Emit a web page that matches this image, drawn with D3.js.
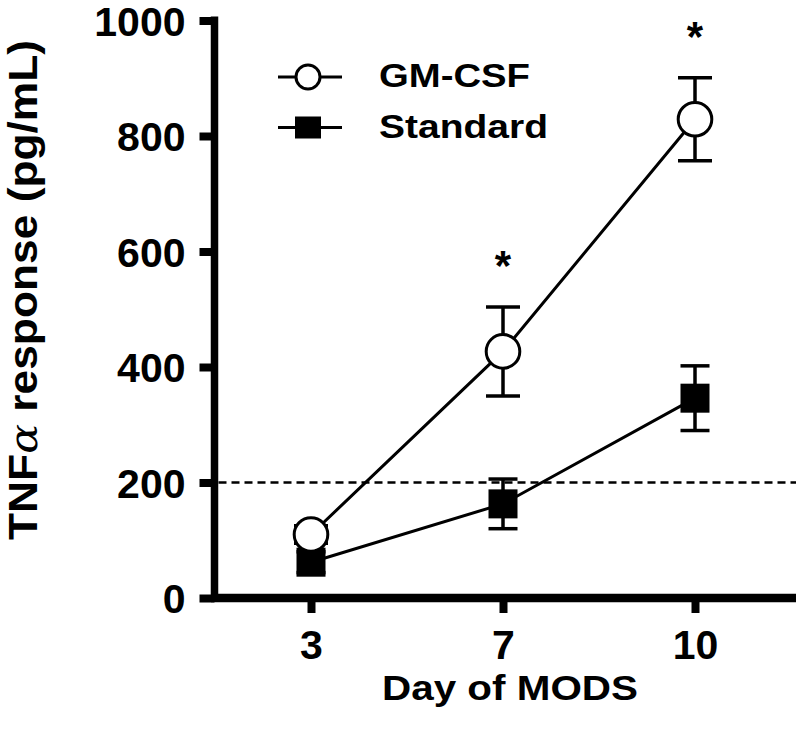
<!DOCTYPE html>
<html>
<head>
<meta charset="utf-8">
<script src="https://cdn.jsdelivr.net/npm/d3@7"></script>
<style>
  html, body { margin: 0; padding: 0; background: #fff; }
  text { font-family: "Liberation Sans", Arial, sans-serif; font-weight: bold; fill: #000; }
</style>
</head>
<body>
<svg id="chart" width="800" height="738"></svg>
<script>
// ---- data ----
const days = ["3", "7", "10"];
const gmcsfMean = [110, 427, 829];
const gmcsfErr = [15, 77, 72];
const standardMean = [62, 163, 346];
const standardErr = [18, 43, 56];
const yTicks = [0, 200, 400, 600, 800, 1000];
const threshold = 200;
const significantDays = ["7", "10"];
const seriesNames = ["GM-CSF", "Standard"];

const svg = d3.select("#chart");

const x = d3.scalePoint().domain(days).range([215, 791]).padding(0.5);
const y = d3.scaleLinear().domain([0, 1000]).range([598, 20.5]);

const axisX0 = 214.5;  // y axis line x
const axisY0 = 598;    // x axis line y

// dashed threshold line
svg.append("line")
  .attr("x1", axisX0 + 4).attr("x2", 796)
  .attr("y1", y(threshold)).attr("y2", y(threshold))
  .attr("stroke", "#000").attr("stroke-width", 2.5)
  .attr("stroke-dasharray", "8,5");

// y axis
const yAxis = d3.axisLeft(y).tickValues(yTicks).tickFormat(d3.format("d"))
  .tickSize(15).tickSizeOuter(0).tickPadding(14);
const gy = svg.append("g").attr("transform", `translate(${axisX0},0)`).call(yAxis);
gy.select(".domain").remove();
gy.selectAll(".tick line").attr("stroke", "#000").attr("stroke-width", 8);
gy.selectAll(".tick text").attr("font-size", 41).attr("dy", "0.36em")
  .style("font-family", "'Liberation Sans', Arial, sans-serif").style("font-weight", "bold").attr("fill", "#000");
svg.append("line").attr("x1", axisX0).attr("x2", axisX0)
  .attr("y1", y(1000) - 4).attr("y2", axisY0 + 4)
  .attr("stroke", "#000").attr("stroke-width", 7.5);

// x axis
const xAxis = d3.axisBottom(x).tickSize(15).tickSizeOuter(0);
const gx = svg.append("g").attr("transform", `translate(0,${axisY0})`).call(xAxis);
gx.select(".domain").remove();
gx.selectAll(".tick line").attr("stroke", "#000").attr("stroke-width", 8);
gx.selectAll(".tick text").attr("font-size", 41).attr("y", 61).attr("dy", 0)
  .style("font-family", "'Liberation Sans', Arial, sans-serif").style("font-weight", "bold").attr("fill", "#000");
svg.append("line").attr("x1", axisX0 - 3.5).attr("x2", 796)
  .attr("y1", axisY0).attr("y2", axisY0)
  .attr("stroke", "#000").attr("stroke-width", 8.5);

// axis titles
svg.append("text").attr("x", 510).attr("y", 700).attr("text-anchor", "middle")
  .attr("font-size", 35).attr("textLength", 256).attr("lengthAdjust", "spacingAndGlyphs")
  .text("Day of MODS");

const yt = svg.append("text").attr("transform", "translate(37,290) rotate(-90)")
  .attr("text-anchor", "middle").attr("font-size", 40)
  .attr("textLength", 500).attr("lengthAdjust", "spacingAndGlyphs");
yt.append("tspan").text("TNF");
yt.append("tspan").attr("font-style", "italic").attr("font-family", "'DejaVu Serif', serif").attr("font-weight", "normal").text("α");
yt.append("tspan").text(" response (pg/mL)");

// series drawing
function drawSeries(means, errs, kind, capW) {
  const pts = days.map((d, i) => ({ d, m: means[i], e: errs[i] }));
  const g = svg.append("g");
  g.append("path").datum(pts)
    .attr("d", d3.line().x(p => x(p.d)).y(p => y(p.m)))
    .attr("fill", "none").attr("stroke", "#000").attr("stroke-width", 3);
  const eb = g.selectAll(".eb").data(pts).enter().append("g");
  eb.append("line").attr("x1", p => x(p.d)).attr("x2", p => x(p.d))
    .attr("y1", p => y(p.m - p.e)).attr("y2", p => y(p.m + p.e))
    .attr("stroke", "#000").attr("stroke-width", 3.5);
  eb.append("line").attr("x1", p => x(p.d) - capW / 2).attr("x2", p => x(p.d) + capW / 2)
    .attr("y1", p => y(p.m + p.e)).attr("y2", p => y(p.m + p.e))
    .attr("stroke", "#000").attr("stroke-width", 3.5);
  eb.append("line").attr("x1", p => x(p.d) - capW / 2).attr("x2", p => x(p.d) + capW / 2)
    .attr("y1", p => y(p.m - p.e)).attr("y2", p => y(p.m - p.e))
    .attr("stroke", "#000").attr("stroke-width", 3.5);
  if (kind === "circle") {
    g.selectAll(".mk").data(pts).enter().append("circle")
      .attr("cx", p => x(p.d)).attr("cy", p => y(p.m)).attr("r", 16.8)
      .attr("fill", "#fff").attr("stroke", "#000").attr("stroke-width", 3);
  } else {
    const s = 29;
    g.selectAll(".mk").data(pts).enter().append("rect")
      .attr("x", p => x(p.d) - s / 2).attr("y", p => y(p.m) - s / 2)
      .attr("width", s).attr("height", s).attr("fill", "#000");
  }
}
drawSeries(standardMean, standardErr, "square", 29);
drawSeries(gmcsfMean, gmcsfErr, "circle", 34);

// significance asterisks
significantDays.forEach(d => {
  const i = days.indexOf(d);
  svg.append("text").attr("x", x(d)).attr("y", y(gmcsfMean[i] + gmcsfErr[i]) - 27)
    .attr("text-anchor", "middle").attr("font-size", 42).text("*");
});

// legend
const lg = svg.append("g");
const lx = 308, lineHalf = 30;
[77, 127.5].forEach((ly, i) => {
  lg.append("line").attr("x1", lx - lineHalf).attr("x2", lx + lineHalf + 4)
    .attr("y1", ly).attr("y2", ly).attr("stroke", "#000").attr("stroke-width", 3);
  if (i === 0) {
    lg.append("circle").attr("cx", lx).attr("cy", ly).attr("r", 12)
      .attr("fill", "#fff").attr("stroke", "#000").attr("stroke-width", 3);
  } else {
    lg.append("rect").attr("x", lx - 13).attr("y", ly - 11).attr("width", 26).attr("height", 22).attr("fill", "#000");
  }
  lg.append("text").attr("x", 379).attr("y", ly + 10)
    .attr("font-size", 34).attr("textLength", i === 0 ? 151 : 169).attr("lengthAdjust", "spacingAndGlyphs")
    .text(seriesNames[i]);
});
</script>
</body>
</html>
